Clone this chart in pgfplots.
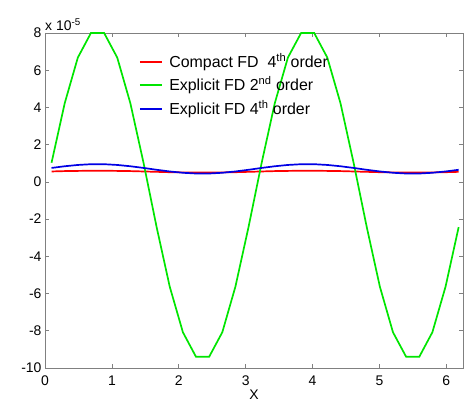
\documentclass[border=0pt]{standalone}
\usepackage{fontspec}
\setmainfont{Liberation Sans}
\usepackage{pgfplots}
\pgfplotsset{compat=1.18}
\begin{document}
\begin{tikzpicture}[x=1bp,y=1bp]
\begin{axis}[
    scale only axis,
    width=418bp, height=335bp,
    xmin=0, xmax=6.25, ymin=-10, ymax=8,
    xtick={0,1,2,3,4,5,6},
    ytick={-10,-8,-6,-4,-2,0,2,4,6,8},
    tick align=inside,
    major tick length=4bp,
    axis line style={gray, line width=0.9bp},
    tick style={gray, line width=0.7bp},
    tick label style={font=\fontsize{14}{16}\selectfont},
    /pgf/number format/assume math mode=true,
    xticklabel style={yshift=-4bp},
    xlabel={X},
    xlabel style={font=\fontsize{14}{16}\selectfont, yshift=2bp},
]
% legend swatches, as short plots in axis units
\addplot[red, line width=1.7bp, forget plot] coordinates {(1.42,6.43) (1.75,6.43)};
\addplot[green!90!black, line width=1.7bp, forget plot] coordinates {(1.42,5.21) (1.75,5.21)};
\addplot[blue!90!black, line width=1.7bp, forget plot] coordinates {(1.42,3.90) (1.75,3.90)};
\addplot[red, line width=1.7bp] coordinates {
(0.098,0.56) (0.295,0.58) (0.491,0.59) (0.687,0.60) (0.884,0.60) (1.080,0.59)
(1.276,0.58) (1.473,0.56) (1.669,0.54) (1.865,0.52) (2.062,0.51) (2.258,0.50)
(2.454,0.50) (2.651,0.51) (2.847,0.52) (3.043,0.54) (3.240,0.56) (3.436,0.58)
(3.632,0.59) (3.829,0.60) (4.025,0.60) (4.221,0.59) (4.418,0.58) (4.614,0.56)
(4.811,0.54) (5.007,0.52) (5.203,0.51) (5.400,0.50) (5.596,0.50) (5.792,0.51)
(5.989,0.52) (6.185,0.54)
};
\addplot[green!90!black, line width=1.7bp] coordinates {
(0.098,1.03) (0.295,4.23) (0.491,6.68) (0.687,8.00) (0.884,8.00) (1.080,6.68)
(1.276,4.23) (1.473,1.03) (1.669,-2.43) (1.865,-5.63) (2.062,-8.08) (2.258,-9.40)
(2.454,-9.40) (2.651,-8.08) (2.847,-5.63) (3.043,-2.43) (3.240,1.03) (3.436,4.23)
(3.632,6.68) (3.829,8.00) (4.025,8.00) (4.221,6.68) (4.418,4.23) (4.614,1.03)
(4.811,-2.43) (5.007,-5.63) (5.203,-8.08) (5.400,-9.40) (5.596,-9.40) (5.792,-8.08)
(5.989,-5.63) (6.185,-2.43)
};
\addplot[blue!90!black, line width=1.7bp] coordinates {
(0.098,0.75) (0.295,0.84) (0.491,0.91) (0.687,0.95) (0.884,0.95) (1.080,0.91)
(1.276,0.84) (1.473,0.75) (1.669,0.65) (1.865,0.56) (2.062,0.49) (2.258,0.45)
(2.454,0.45) (2.651,0.49) (2.847,0.56) (3.043,0.65) (3.240,0.75) (3.436,0.84)
(3.632,0.91) (3.829,0.95) (4.025,0.95) (4.221,0.91) (4.418,0.84) (4.614,0.75)
(4.811,0.65) (5.007,0.56) (5.203,0.49) (5.400,0.45) (5.596,0.45) (5.792,0.49)
(5.989,0.56) (6.185,0.65)
};
\coordinate (ll) at (rel axis cs:0,0);
\coordinate (ur) at (rel axis cs:1,1);
\coordinate (ul) at (rel axis cs:0,1);
\coordinate (t1) at (axis cs:1.855,6.43);
\coordinate (t2) at (axis cs:1.855,5.21);
\coordinate (t3) at (axis cs:1.855,3.90);
\end{axis}
\node[anchor=west, inner sep=0pt, font=\fontsize{16}{18}\selectfont] at (t1) {Compact FD\ \ 4\textsuperscript{th} order};
\node[anchor=west, inner sep=0pt, font=\fontsize{16}{18}\selectfont] at (t2) {Explicit FD 2\textsuperscript{nd} order};
\node[anchor=west, inner sep=0pt, font=\fontsize{16}{18}\selectfont] at (t3) {Explicit FD 4\textsuperscript{th} order};
\node[anchor=south west, inner sep=0pt, font=\fontsize{14}{16}\selectfont]
    at ([shift={(0bp,2bp)}]ul) {x 10\textsuperscript{-5}};
\pgfresetboundingbox
\path ([shift={(-45bp,-36bp)}]ll) rectangle ([shift={(1bp,33bp)}]ur);
\end{tikzpicture}
\end{document}
